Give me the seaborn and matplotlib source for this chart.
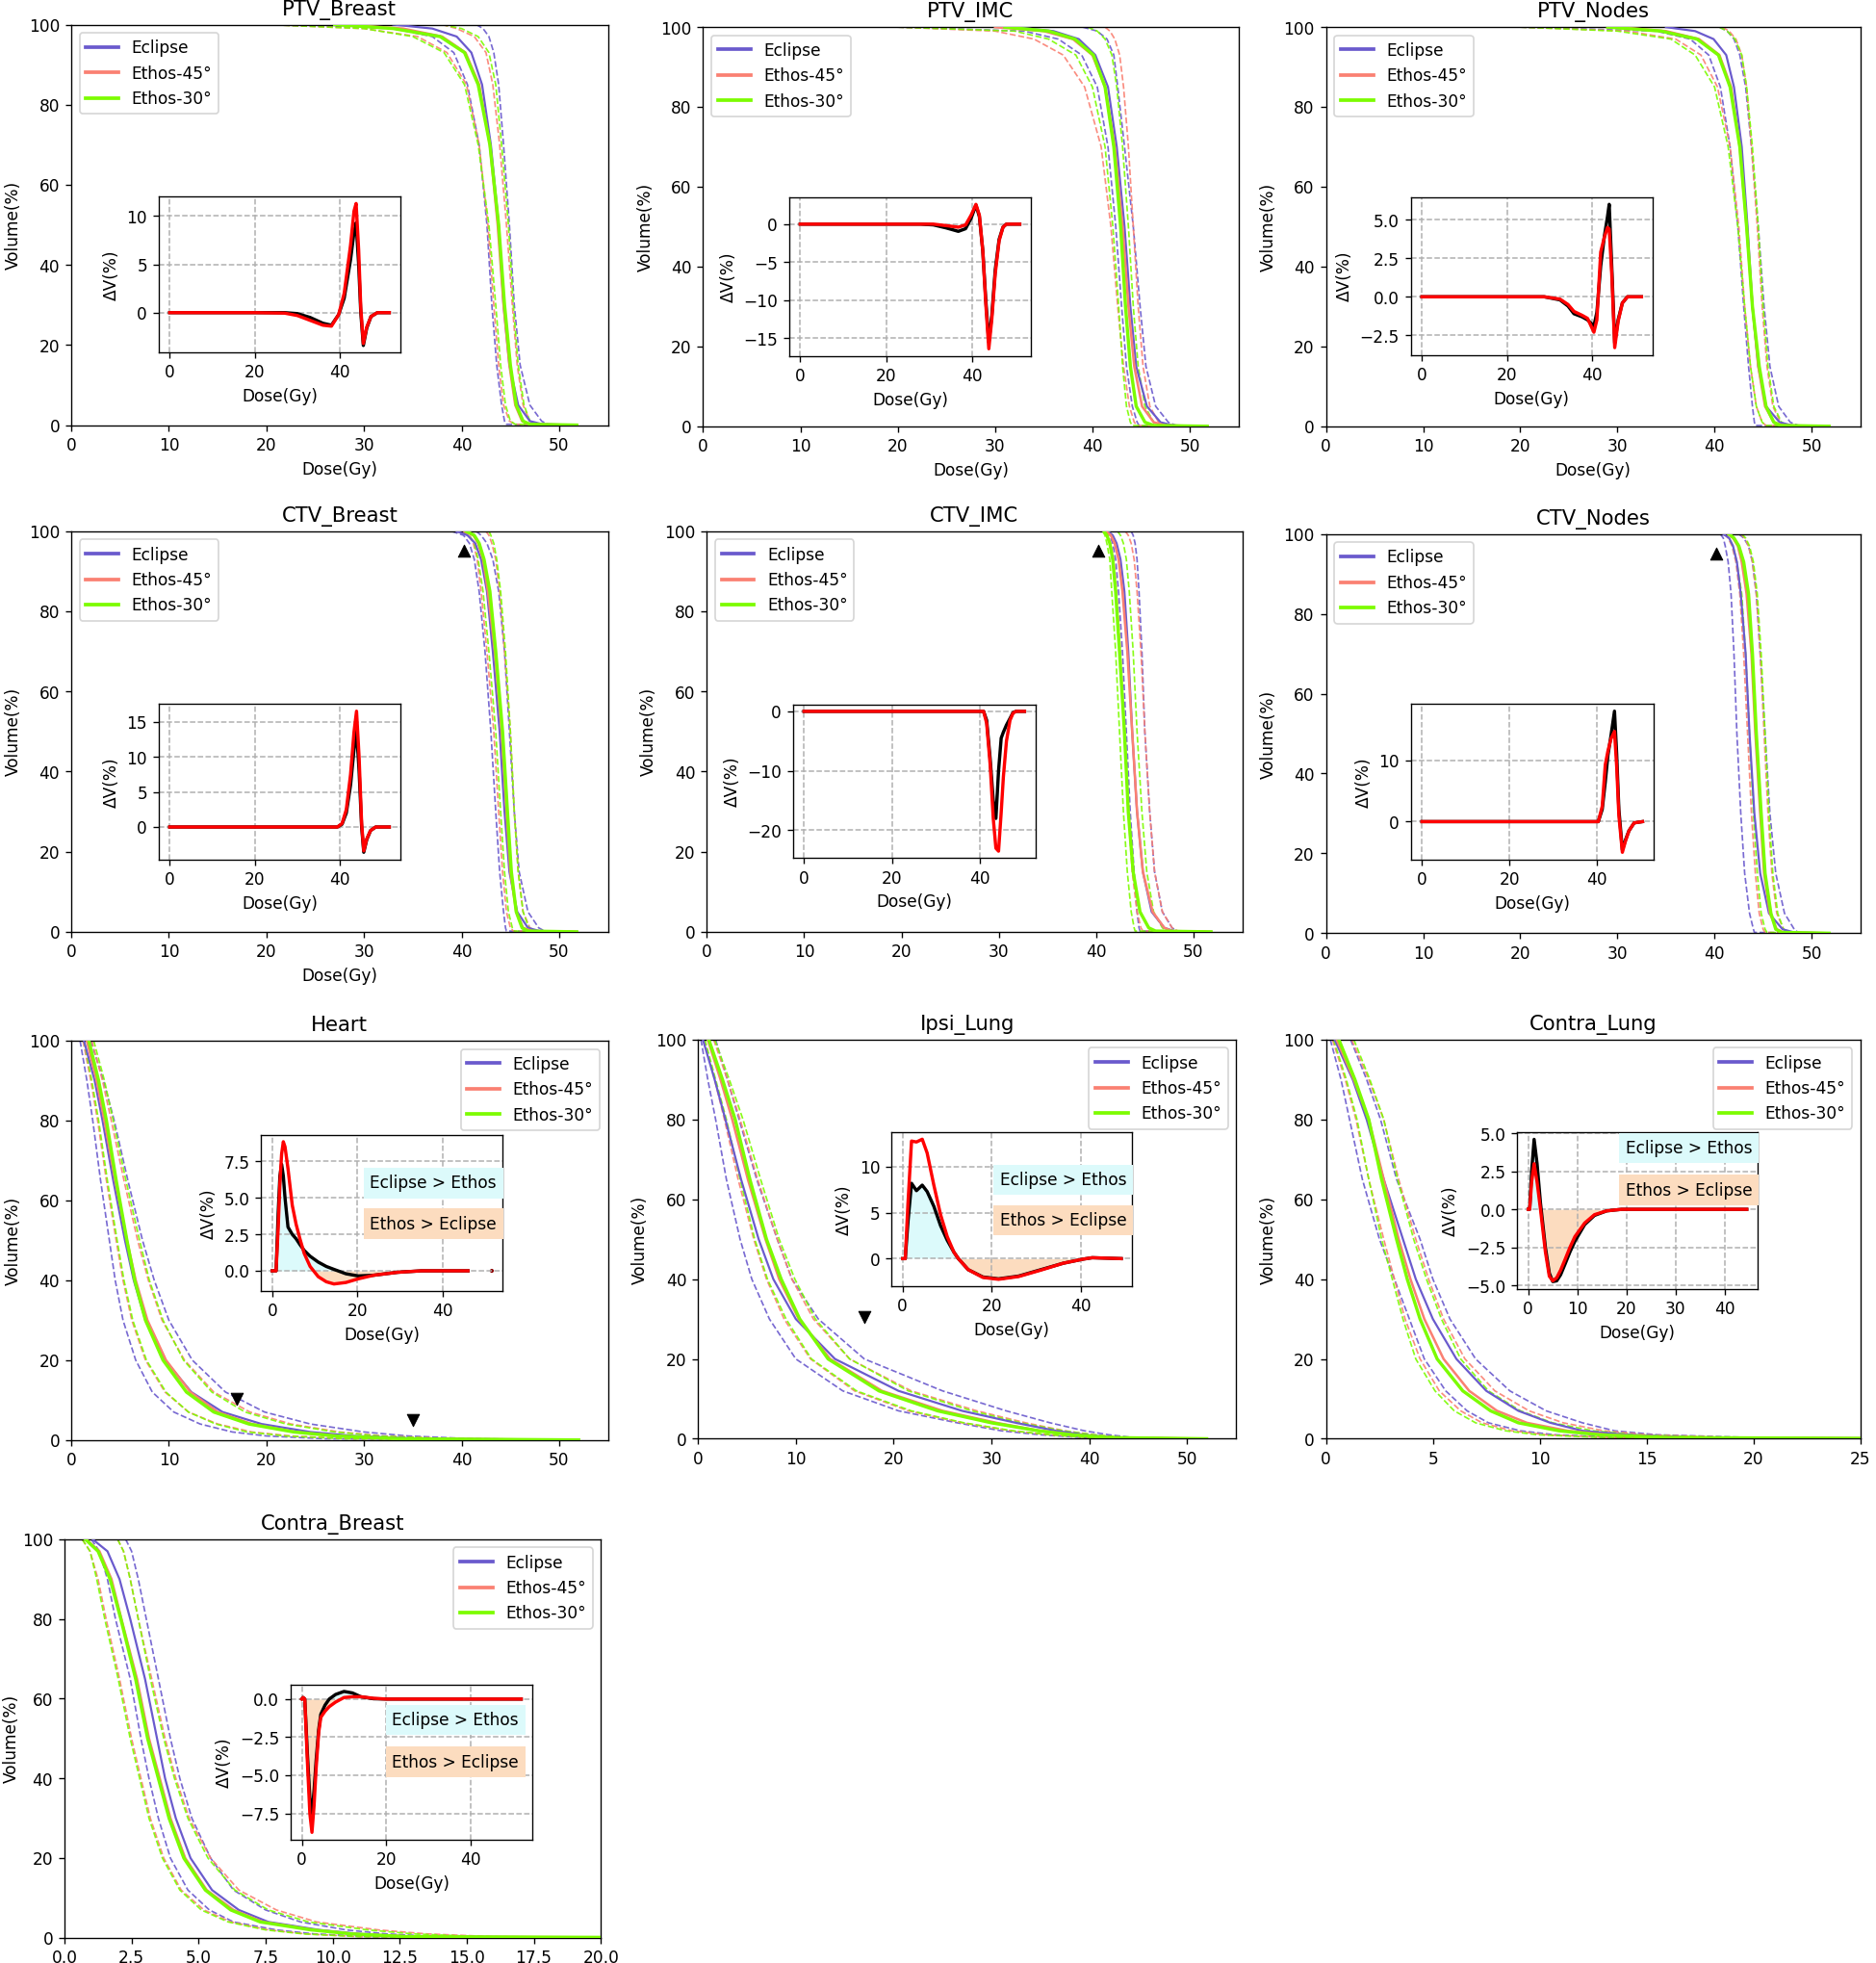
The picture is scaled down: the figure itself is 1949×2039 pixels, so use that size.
import numpy as np
import pandas as pd
import matplotlib
matplotlib.use("Agg")
from matplotlib import pyplot as plt
from matplotlib.lines import Line2D
from matplotlib.ticker import MultipleLocator
import seaborn as sns

# volume levels (%) at which each DVH curve's dose (Gy) is read
TGT_LEVELS = [100, 99, 97, 93, 85, 70, 50, 30, 15, 5, 1, 0.2, 0]
OAR_LEVELS = [100, 90, 80, 65, 50, 40, 30, 20, 12, 7, 4, 2, 1, 0.3, 0]
CBR_LEVELS = [100, 97, 90, 80, 65, 50, 40, 30, 20, 12, 7, 4, 2, 1, 0.3, 0]

SERIES = ["Eclipse", "Ethos-45°", "Ethos-30°"]

# ---------------- PTV_Breast ----------------
PTVB_ECL = [33, 37, 39.5, 41.0, 42.1, 43.0, 43.8, 44.3, 44.9, 45.8, 47.0, 48.3, 51.8]
PTVB_ECL_LO = [20, 33, 37.0, 39.2, 40.6, 41.8, 42.6, 43.1, 43.6, 44.1, 44.4, 44.6, 51.8]
PTVB_ECL_HI = [41.5, 42.2, 42.8, 43.3, 43.8, 44.3, 44.9, 45.4, 46.0, 47.0, 48.2, 48.8, 51.8]
PTVB_E45 = [28, 34, 38.0, 40.4, 41.8, 42.9, 43.7, 44.3, 44.9, 45.5, 46.2, 47.0, 51.8]
PTVB_E45_LO = [20, 30, 35.5, 38.5, 40.5, 41.8, 42.7, 43.3, 43.8, 44.3, 44.9, 45.5, 51.8]
PTVB_E45_HI = [38, 39.5, 41.3, 42.5, 43.2, 43.9, 44.6, 45.2, 45.7, 46.3, 47.0, 47.6, 51.8]
PTVB_E30 = [27, 33, 37.8, 40.3, 41.7, 42.9, 43.8, 44.4, 45.0, 45.6, 46.3, 47.0, 51.8]
PTVB_E30_LO = [20, 30, 35.0, 38.2, 40.3, 41.7, 42.8, 43.5, 44.0, 44.5, 45.0, 45.5, 51.8]
PTVB_E30_HI = [38, 40, 41.7, 42.8, 43.5, 44.1, 44.8, 45.3, 45.8, 46.4, 47.0, 47.6, 51.8]
PTVB_DX = [0, 20, 27, 30, 33, 36, 38, 39.7, 41, 42.5, 43.3, 43.8, 44.4, 44.9, 45.5, 46.3, 47.3, 48.8, 51.6]
PTVB_D45 = [0, 0, 0, -0.1, -0.5, -1.1, -1.3, -0.2, 1.5, 5.5, 8.3, 9.3, 5, 0, -3.4, -1.6, -0.4, 0, 0]
PTVB_D30 = [0, 0, -0.05, -0.3, -0.8, -1.3, -1.4, -0.2, 2, 7, 10.5, 11.3, 6.5, 0.5, -3.2, -1.5, -0.4, 0, 0]

# ---------------- PTV_IMC ----------------
PTVI_ECL = [32, 36.0, 38.6, 40.3, 41.6, 42.5, 43.3, 43.9, 44.5, 45.6, 47.0, 48.3, 51.8]
PTVI_ECL_LO = [20, 33.0, 36.5, 38.9, 40.5, 41.6, 42.4, 43.0, 43.5, 44.1, 44.6, 44.8, 51.8]
PTVI_ECL_HI = [39, 40.5, 41.5, 42.2, 42.6, 43.3, 44.2, 44.9, 45.5, 46.5, 47.8, 48.6, 51.8]
PTVI_E45 = [30, 35.0, 38.0, 40.0, 41.3, 42.3, 43.1, 43.7, 44.3, 45.1, 46.3, 47.5, 51.8]
PTVI_E45_LO = [20, 30, 34.0, 37.0, 39.2, 40.9, 41.9, 42.6, 43.2, 43.8, 44.3, 44.6, 51.8]
PTVI_E45_HI = [41.3, 41.8, 42.3, 42.8, 43.2, 43.7, 44.2, 44.7, 45.2, 45.9, 46.8, 47.6, 51.8]
PTVI_E30 = [31, 35.5, 38.2, 40.1, 41.3, 42.2, 42.9, 43.4, 43.9, 44.5, 45.4, 46.3, 51.8]
PTVI_E30_LO = [20, 32, 35.5, 38.3, 40.0, 41.3, 42.1, 42.7, 43.1, 43.5, 43.9, 44.1, 51.8]
PTVI_E30_HI = [39.5, 40.5, 41.3, 42.0, 42.5, 43.1, 43.7, 44.2, 44.7, 45.4, 46.3, 47.0, 51.8]
PTVI_DX = [0, 20, 28, 31, 34, 36.8, 38.5, 39.8, 40.9, 41.7, 42.5, 43.2, 43.9, 44.6, 45.4, 46.3, 47.2, 48, 51.1]
PTVI_D45 = [0, 0, 0, -0.1, -0.5, -0.95, -0.6, 0.8, 2.5, 1.0, -3.5, -10, -15.5, -12, -6, -2, -0.4, 0, 0]
PTVI_D30 = [0, 0, 0, 0, -0.2, -0.4, -0.1, 1.2, 2.6, 1.2, -3.5, -10.5, -16.4, -12.5, -6.5, -2.2, -0.4, 0, 0]

# ---------------- PTV_Nodes ----------------
PTVN_ECL = [35, 38.0, 39.9, 41.2, 42.0, 42.8, 43.4, 43.9, 44.5, 45.3, 46.7, 48.0, 51.8]
PTVN_ECL_LO = [20, 34, 37.5, 39.4, 40.6, 41.6, 42.4, 43.0, 43.5, 43.9, 44.1, 44.2, 51.8]
PTVN_ECL_HI = [40.5, 41.3, 42.0, 42.6, 43.2, 43.8, 44.5, 45.1, 45.7, 46.6, 47.8, 48.6, 51.8]
PTVN_E45 = [30, 35.0, 38.4, 40.5, 41.7, 42.6, 43.3, 43.9, 44.5, 45.2, 46.1, 47.0, 51.8]
PTVN_E45_LO = [20, 31, 36.0, 38.6, 40.3, 41.6, 42.5, 43.1, 43.7, 44.3, 44.9, 45.3, 51.8]
PTVN_E45_HI = [40.8, 41.5, 42.2, 42.8, 43.3, 43.8, 44.4, 44.9, 45.4, 46.0, 46.8, 47.5, 51.8]
PTVN_E30 = [29, 34.5, 38.2, 40.4, 41.6, 42.6, 43.3, 43.9, 44.6, 45.3, 46.1, 46.8, 51.8]
PTVN_E30_LO = [20, 30, 35.5, 38.0, 40.0, 41.4, 42.4, 43.1, 43.7, 44.3, 44.9, 45.3, 51.8]
PTVN_E30_HI = [40.5, 41.3, 42.1, 42.8, 43.3, 43.9, 44.5, 45.0, 45.5, 46.1, 46.9, 47.5, 51.8]
PTVN_DX = [0, 20, 28.8, 32.5, 34.4, 35.8, 37.7, 39, 40.5, 41.2, 42.1, 43.0, 43.7, 44.1, 44.7, 45.4, 46.2, 47.2, 48.4, 51.7]
PTVN_D45 = [0, 0, 0, -0.2, -0.6, -1.1, -1.3, -1.5, -1.9, -1.0, 2.0, 4.0, 5.2, 6.0, 2, -3.0, -1.5, -0.4, 0, 0]
PTVN_D30 = [0, 0, 0, -0.15, -0.5, -0.95, -1.2, -1.4, -2.3, -1.5, 2.9, 3.9, 4.5, 4.4, 1.5, -3.3, -1.6, -0.4, 0, 0]

# ---------------- CTV_Breast ----------------
CTVB_ECL = [39.5, 40.6, 41.4, 42.0, 42.6, 43.2, 43.9, 44.4, 44.9, 45.7, 46.8, 48.0, 51.8]
CTVB_ECL_LO = [39.0, 40.2, 40.8, 41.3, 41.8, 42.4, 43.0, 43.5, 43.9, 44.3, 44.5, 44.6, 51.8]
CTVB_ECL_HI = [41.5, 42.0, 42.6, 43.2, 43.8, 44.4, 44.9, 45.4, 45.9, 46.8, 47.9, 48.5, 51.8]
CTVB_E45 = [40.3, 41.2, 41.7, 42.2, 42.7, 43.4, 44.1, 44.6, 45.0, 45.6, 46.3, 47.2, 51.8]
CTVB_E45_LO = [40.0, 40.8, 41.2, 41.6, 42.0, 42.6, 43.3, 43.8, 44.2, 44.6, 45.0, 45.3, 51.8]
CTVB_E45_HI = [42.5, 42.8, 43.1, 43.5, 43.9, 44.4, 45.0, 45.4, 45.8, 46.3, 47.0, 47.7, 51.8]
CTVB_E30 = [40.5, 41.3, 41.8, 42.3, 42.9, 43.5, 44.2, 44.7, 45.1, 45.6, 46.2, 46.8, 51.8]
CTVB_E30_LO = [40.2, 40.8, 41.3, 41.7, 42.2, 42.8, 43.5, 44.0, 44.4, 44.8, 45.2, 45.4, 51.8]
CTVB_E30_HI = [42.8, 43.0, 43.3, 43.6, 44.0, 44.5, 45.0, 45.4, 45.8, 46.3, 46.9, 47.4, 51.8]
CTVB_DX = [0, 20, 39.4, 40.5, 41.5, 42.5, 43.3, 43.9, 44.5, 45.1, 45.6, 46.3, 47.2, 48.4, 51.6]
CTVB_D45 = [0, 0, 0, 0.4, 2, 6, 11, 13.8, 8, 0, -3.6, -1.8, -0.5, 0, 0]
CTVB_D30 = [0, 0, 0, 0.5, 2.5, 7.5, 13.5, 16.5, 10, 0.5, -3.4, -1.7, -0.5, 0, 0]

# ---------------- CTV_IMC ----------------
CTVI_ECL = [41.2, 41.7, 42.1, 42.5, 42.9, 43.3, 43.7, 44.2, 44.8, 45.7, 47.0, 48.0, 51.8]
CTVI_ECL_LO = [41.0, 41.4, 41.7, 42.0, 42.3, 42.7, 43.1, 43.5, 43.9, 44.2, 44.4, 44.5, 51.8]
CTVI_ECL_HI = [43.6, 43.8, 44.0, 44.2, 44.4, 44.7, 45.0, 45.5, 46.0, 46.8, 47.8, 48.3, 51.8]
CTVI_E45 = [41.0, 41.5, 41.9, 42.3, 42.7, 43.2, 43.7, 44.2, 44.8, 45.8, 47.0, 47.8, 51.8]
CTVI_E45_LO = [40.9, 41.2, 41.5, 41.8, 42.1, 42.5, 42.9, 43.3, 43.7, 44.2, 44.6, 44.8, 51.8]
CTVI_E45_HI = [43.0, 43.3, 43.6, 43.9, 44.2, 44.6, 45.0, 45.5, 46.0, 46.8, 47.8, 48.4, 51.8]
CTVI_E30 = [40.8, 41.1, 41.4, 41.7, 42.0, 42.4, 42.9, 43.3, 43.8, 44.5, 45.4, 46.1, 51.8]
CTVI_E30_LO = [40.7, 40.9, 41.1, 41.4, 41.6, 42.0, 42.4, 42.8, 43.2, 43.6, 43.9, 44.0, 51.8]
CTVI_E30_HI = [42.2, 42.5, 42.8, 43.1, 43.4, 43.8, 44.2, 44.7, 45.2, 45.9, 46.8, 47.3, 51.8]
CTVI_DX = [0, 20, 40.8, 41.5, 42.3, 43.0, 43.6, 44.2, 44.8, 45.3, 46.0, 46.8, 47.5, 48.2, 50.1]
CTVI_D45 = [0, 0, 0, -1.5, -8, -15, -18, -10, -4.5, -3.5, -2.3, -1.2, -0.2, 0, 0]
CTVI_D30 = [0, 0, 0, -2.0, -9, -18, -23, -23.5, -17, -11, -5, -1.5, -0.3, 0, 0]

# ---------------- CTV_Nodes ----------------
CTVN_ECL = [40.9, 41.5, 41.9, 42.3, 42.7, 43.2, 43.6, 44.1, 44.7, 45.6, 47.0, 48.2, 51.8]
CTVN_ECL_LO = [40.6, 40.9, 41.1, 41.4, 41.7, 42.0, 42.3, 42.7, 43.1, 43.6, 44.0, 44.1, 51.8]
CTVN_ECL_HI = [42.5, 43.0, 43.5, 43.9, 44.3, 44.7, 45.2, 45.7, 46.3, 47.2, 48.2, 48.6, 51.8]
CTVN_E45 = [41.4, 41.9, 42.4, 42.8, 43.3, 43.8, 44.2, 44.7, 45.1, 45.7, 46.4, 47.1, 51.8]
CTVN_E45_LO = [41.0, 41.4, 41.8, 42.2, 42.6, 43.0, 43.4, 43.8, 44.2, 44.6, 45.0, 45.2, 51.8]
CTVN_E45_HI = [42.7, 43.1, 43.5, 43.9, 44.3, 44.7, 45.1, 45.5, 45.9, 46.4, 47.1, 47.6, 51.8]
CTVN_E30 = [41.5, 42.0, 42.5, 43.0, 43.5, 43.9, 44.3, 44.8, 45.2, 45.8, 46.3, 46.9, 51.8]
CTVN_E30_LO = [41.1, 41.5, 41.9, 42.3, 42.8, 43.2, 43.6, 44.0, 44.4, 44.8, 45.2, 45.4, 51.8]
CTVN_E30_HI = [42.8, 43.2, 43.6, 44.0, 44.4, 44.8, 45.2, 45.6, 46.0, 46.5, 47.1, 47.6, 51.8]
CTVN_DX = [0, 20, 40.3, 41.2, 41.9, 42.5, 43.2, 44.0, 44.5, 45.0, 45.8, 46.5, 47.3, 48.5, 50.4]
CTVN_D45 = [0, 0, 0, 2, 6.5, 10.8, 14, 18, 11, 2, -4.6, -3, -1.5, -0.2, 0]
CTVN_D30 = [0, 0, 0, 2.5, 9.3, 11.5, 13.5, 14.7, 9, 1, -5, -3.2, -1.5, -0.2, 0]

# ---------------- Heart ----------------
HRT_ECL = [1.3, 2.4, 3.2, 4.3, 5.5, 6.4, 7.6, 9.6, 12.3, 15.5, 19.5, 24.5, 29, 36, 52]
HRT_ECL_LO = [0.9, 1.6, 2.2, 3.0, 3.9, 4.5, 5.3, 6.6, 8.3, 10.5, 13.2, 16.5, 20, 26, 52]
HRT_ECL_HI = [2.0, 3.3, 4.4, 5.8, 7.3, 8.5, 10.0, 12.4, 15.8, 19.8, 24.5, 30, 34.5, 41, 52]
HRT_E45 = [1.6, 2.6, 3.4, 4.5, 5.7, 6.6, 7.8, 9.7, 12.2, 15.0, 18.5, 23.0, 27.5, 34, 52]
HRT_E45_LO = [1.2, 2.0, 2.7, 3.6, 4.6, 5.3, 6.2, 7.6, 9.6, 12.0, 15.0, 18.5, 22.5, 29, 52]
HRT_E45_HI = [2.1, 3.2, 4.1, 5.4, 6.8, 7.9, 9.3, 11.6, 14.6, 18.3, 22.5, 27.5, 32, 39, 52]
HRT_E30 = [1.8, 2.8, 3.6, 4.6, 5.7, 6.5, 7.6, 9.4, 11.8, 14.6, 18.2, 22.8, 27, 34, 52]
HRT_E30_LO = [1.3, 2.1, 2.8, 3.7, 4.7, 5.4, 6.3, 7.7, 9.7, 12.0, 14.8, 18.0, 22, 28, 52]
HRT_E30_HI = [2.3, 3.4, 4.3, 5.6, 7.0, 8.0, 9.4, 11.5, 14.4, 17.8, 22, 27, 31.5, 38, 52]
HRT_DX = [0, 0.9, 1.4, 1.8, 2.2, 2.6, 3.0, 3.7, 4.7, 5.6, 6.5, 7.5, 8.9, 10.8, 12.7, 14.5, 17.3, 20.2, 23.9, 29.5, 35, 46]
HRT_D45 = [0, 0, 4, 6.5, 7.3, 6.5, 5.0, 3.0, 2.5, 2.2, 1.8, 1.4, 1.0, 0.6, 0.3, 0.1, -0.2, -0.35, -0.3, -0.1, 0, 0]
HRT_D30 = [0, 0, 3, 6, 8, 8.85, 8.5, 7.0, 4.5, 3.2, 2.2, 1.2, 0.3, -0.4, -0.75, -0.9, -0.8, -0.55, -0.3, -0.1, 0, 0]
HRT_DOT = [51.6, 0.0]
HRT_MARKS_X = [17, 35]
HRT_MARKS_Y = [10.2, 5.1]

# ---------------- Ipsi_Lung ----------------
IPS_ECL = [0.5, 1.7, 2.8, 4.4, 6.2, 7.7, 10.0, 14.0, 20.5, 27.0, 32.5, 36.6, 39.5, 42.5, 52]
IPS_ECL_LO = [0.3, 1.0, 1.8, 2.9, 4.3, 5.5, 7.3, 10.0, 14.8, 20.5, 26.5, 31.0, 35.0, 39.5, 52]
IPS_ECL_HI = [1.8, 3.0, 4.2, 6.0, 8.1, 9.6, 12.3, 17.0, 25.0, 31.5, 36.0, 39.5, 42.0, 44.5, 52]
IPS_E45 = [1.0, 2.3, 3.5, 5.1, 6.9, 8.3, 10.3, 13.5, 18.8, 25.0, 30.5, 35.0, 38.5, 42, 52]
IPS_E45_LO = [0.6, 1.7, 2.7, 4.1, 5.7, 7.0, 8.8, 11.5, 16.0, 21.5, 27.0, 32.0, 36.0, 40, 52]
IPS_E45_HI = [1.6, 3.0, 4.3, 6.1, 8.1, 9.6, 11.8, 15.5, 21.8, 28.5, 33.5, 37.5, 40.5, 43.5, 52]
IPS_E30 = [1.1, 2.5, 3.8, 5.3, 7.0, 8.5, 10.4, 13.3, 18.5, 24.5, 30.0, 34.8, 38.3, 42, 52]
IPS_E30_LO = [0.7, 1.8, 2.9, 4.3, 5.8, 7.1, 9.0, 11.6, 16.2, 21.8, 27.2, 32.2, 36.0, 40, 52]
IPS_E30_HI = [1.7, 3.2, 4.6, 6.4, 8.3, 9.9, 12.0, 15.5, 21.5, 28.0, 33.0, 37.3, 40.5, 43.5, 52]
IPS_DX = [0, 0.6, 1.2, 2.0, 3.1, 4.4, 5.5, 7.0, 8.5, 10.0, 11.5, 12.5, 14.7, 18, 21.5, 26, 31, 36, 40.5, 42.5, 49]
IPS_D45 = [0, 0, 4, 8.2, 7.4, 8.0, 7.3, 5.7, 3.6, 2.0, 0.7, 0, -1.2, -2.0, -2.2, -1.9, -1.2, -0.5, -0.05, 0.1, 0]
IPS_D30 = [0, 0, 6, 12.8, 12.7, 13.0, 11.5, 8.0, 4.8, 2.4, 0.7, 0, -1.2, -2.05, -2.25, -1.95, -1.25, -0.5, -0.05, 0.1, 0]
IPS_MARKS_X = [17]
IPS_MARKS_Y = [30.4]

# ---------------- Contra_Lung ----------------
CLU_ECL = [0.4, 1.25, 1.9, 2.7, 3.6, 4.2, 5.0, 6.1, 7.5, 9.0, 10.5, 12.0, 14.1, 17.0, 30]
CLU_ECL_LO = [0.2, 0.7, 1.1, 1.7, 2.5, 3.2, 3.9, 4.6, 5.6, 6.6, 7.6, 9.1, 10.7, 14.1, 30]
CLU_ECL_HI = [1.15, 1.9, 2.55, 3.3, 4.4, 5.0, 5.8, 7.0, 8.6, 10.3, 12.0, 13.5, 15.5, 20, 30]
CLU_E45 = [0.5, 1.3, 2.0, 2.7, 3.4, 3.95, 4.6, 5.5, 6.7, 8.0, 9.4, 11.3, 13.2, 16.5, 30]
CLU_E45_LO = [0.3, 0.9, 1.4, 2.0, 2.7, 3.2, 3.7, 4.4, 5.3, 6.3, 7.3, 8.7, 10.3, 13.5, 30]
CLU_E45_HI = [1.2, 2.0, 2.7, 3.4, 4.2, 4.8, 5.5, 6.5, 7.9, 9.5, 11.1, 13.0, 15, 19, 30]
CLU_E30 = [0.6, 1.35, 2.0, 2.6, 3.3, 3.8, 4.4, 5.2, 6.4, 7.7, 9.0, 10.9, 12.8, 16, 30]
CLU_E30_LO = [0.35, 0.95, 1.45, 2.0, 2.6, 3.1, 3.6, 4.2, 5.1, 6.0, 7.0, 8.4, 9.9, 13, 30]
CLU_E30_HI = [1.3, 2.05, 2.7, 3.35, 4.1, 4.7, 5.4, 6.3, 7.6, 9.1, 10.6, 12.5, 14.5, 18.5, 30]
CLU_DX = [0, 0.3, 0.7, 1.2, 1.8, 2.5, 3.5, 4.3, 5.0, 5.8, 6.6, 7.5, 8.5, 9.5, 11.5, 13.5, 16, 19, 25, 44.5]
CLU_D45 = [0, 0, 2.5, 4.6, 3.0, 0.4, -2.5, -4.2, -4.75, -4.7, -4.3, -3.6, -2.8, -2.1, -1.0, -0.4, -0.1, 0, 0, 0]
CLU_D30 = [0, 0, 1.8, 3.0, 1.8, 0, -2.8, -4.4, -4.7, -4.5, -4.0, -3.3, -2.5, -1.8, -0.9, -0.35, -0.1, 0, 0, 0]

# ---------------- Contra_Breast ----------------
CBR_ECL = [1.05, 1.6, 2.05, 2.45, 3.0, 3.45, 3.75, 4.15, 4.7, 5.5, 6.5, 7.6, 9.5, 11.0, 13.0, 25]
CBR_ECL_LO = [1.0, 1.3, 1.6, 1.9, 2.45, 2.85, 3.15, 3.5, 3.95, 4.6, 5.4, 6.3, 7.9, 9.3, 11.5, 25]
CBR_ECL_HI = [2.28, 2.5, 2.75, 3.05, 3.5, 3.95, 4.3, 4.75, 5.45, 6.3, 7.5, 8.8, 10.5, 12.0, 14, 25]
CBR_E45 = [0.8, 1.3, 1.75, 2.12, 2.7, 3.15, 3.55, 3.95, 4.5, 5.3, 6.3, 7.4, 9.3, 10.8, 13, 25]
CBR_E45_LO = [0.66, 0.95, 1.25, 1.55, 2.05, 2.5, 2.85, 3.2, 3.7, 4.35, 5.2, 6.2, 7.6, 9.0, 11, 25]
CBR_E45_HI = [1.98, 2.2, 2.45, 2.75, 3.25, 3.75, 4.15, 4.65, 5.45, 6.5, 7.9, 9.4, 11.7, 13.5, 16, 25]
CBR_E30 = [0.78, 1.25, 1.7, 2.1, 2.65, 3.1, 3.5, 3.9, 4.45, 5.25, 6.2, 7.3, 9.2, 10.7, 12.8, 25]
CBR_E30_LO = [0.66, 0.95, 1.2, 1.5, 2.0, 2.45, 2.8, 3.15, 3.65, 4.3, 5.1, 6.1, 7.5, 8.9, 11, 25]
CBR_E30_HI = [1.98, 2.2, 2.45, 2.75, 3.2, 3.7, 4.1, 4.6, 5.35, 6.35, 7.6, 9.1, 11.3, 13.0, 15.5, 25]
CBR_DX = [0, 0.3, 0.7, 1.3, 1.9, 2.4, 2.9, 3.4, 4.0, 4.5, 5.5, 6.5, 8, 10, 12, 14, 17, 20, 52]
CBR_D45 = [0, 0.1, 0, -3.5, -6.5, -7.5, -6.0, -4.0, -2.0, -1.0, -0.4, 0, 0.3, 0.5, 0.4, 0.15, 0.02, 0, 0]
CBR_D30 = [0, 0.1, 0, -4.0, -7.5, -8.75, -7.0, -4.5, -2.2, -1.2, -0.8, -0.5, -0.2, 0.1, 0.15, 0.15, 0.05, 0, 0]

CTV_MARK_X = [40.2]
CTV_MARK_Y = [95.2]

COLORS = ["slateblue", "salmon", "lawngreen"]
SOLID_LW = [1.3, 1.5, 2.0]
CYAN = "#dcfafb"
PEACH = "#fcdcbf"

W_PX, H_PX, DPI = 1949, 2039, 122


def dvh_line(ax, doses, levels, color, lw, ls="-", alpha=1.0, z=2):
    df = pd.DataFrame({"dose": doses, "vol": levels})
    sns.lineplot(data=df, x="dose", y="vol", ax=ax, color=color, lw=lw,
                 linestyle=ls, sort=False, estimator=None, alpha=alpha, zorder=z)


def draw_panel(fig, p):
    ax = fig.add_axes(p["pos"])
    levels = p["levels"]
    # dashed spread first, mean curves on top
    for (mean, lo, hi), c in zip(p["curves"], COLORS):
        dvh_line(ax, lo, levels, c, 1.0, "--", 0.9, 2)
        dvh_line(ax, hi, levels, c, 1.0, "--", 0.9, 2)
    for (mean, lo, hi), c, lw in zip(p["curves"], COLORS, SOLID_LW):
        dvh_line(ax, mean, levels, c, lw, "-", 1.0, 3)
    if p.get("marks"):
        mx, my, mk = p["marks"]
        sns.scatterplot(x=mx, y=my, ax=ax, marker=mk, color="black", s=55,
                        edgecolor="black", zorder=5)
    ax.set_xlim(0, p["xmax"])
    ax.set_ylim(0, 100)
    ax.set_title(p["title"], fontsize=12.5)
    ax.set_ylabel("Volume(%)", labelpad=p.get("ylpad", 4))
    ax.set_xlabel("Dose(Gy)" if p["xlabel"] else "")
    handles = [Line2D([], [], color=c, lw=2.2) for c in COLORS]
    ax.legend(handles, SERIES, loc=p["legend"], fontsize=10)

    ins = ax.inset_axes(p["inset"])
    x = np.array(p["dx"], dtype=float)
    b = np.array(p["d45"], dtype=float)
    r = np.array(p["d30"], dtype=float)
    if p.get("boxes"):
        ins.fill_between(x, b, 0, where=b > 0, interpolate=True, color=CYAN, lw=0)
        ins.fill_between(x, r, 0, where=r < 0, interpolate=True, color=PEACH, lw=0)
    sns.lineplot(x=x, y=b, ax=ins, color="black", lw=2, sort=False, estimator=None)
    sns.lineplot(x=x, y=r, ax=ins, color="red", lw=2, sort=False, estimator=None)
    if p.get("dot"):
        sns.scatterplot(x=[p["dot"][0]], y=[p["dot"][1]], ax=ins, color="darkred",
                        s=6, edgecolor="none")
    ins.xaxis.set_major_locator(MultipleLocator(p.get("xstep", 20)))
    ins.yaxis.set_major_locator(MultipleLocator(p["ystep"]))
    ins.grid(True, ls="--", color="#b0b0b0", lw=0.9)
    ins.set_xlabel("Dose(Gy)")
    ins.set_ylabel("ΔV(%)")
    if p.get("boxes"):
        bx, ye, yo = p["boxes"]
        ins.text(bx, ye, "Eclipse > Ethos", transform=ins.transAxes, va="center",
                 ha="left", fontsize=10,
                 bbox=dict(boxstyle="square,pad=0.4", fc=CYAN, ec="none"))
        ins.text(bx, yo, "Ethos > Eclipse", transform=ins.transAxes, va="center",
                 ha="left", fontsize=10,
                 bbox=dict(boxstyle="square,pad=0.4", fc=PEACH, ec="none"))
    return ax


panels = [
    dict(title="PTV_Breast", pos=[0.038, 0.7833, 0.286, 0.204], inset=[0.163, 0.181, 0.45, 0.39],
         levels=TGT_LEVELS, xmax=55, xlabel=True, legend="upper left", ystep=5,
         curves=[(PTVB_ECL, PTVB_ECL_LO, PTVB_ECL_HI), (PTVB_E45, PTVB_E45_LO, PTVB_E45_HI),
                 (PTVB_E30, PTVB_E30_LO, PTVB_E30_HI)],
         dx=PTVB_DX, d45=PTVB_D45, d30=PTVB_D30),
    dict(title="PTV_IMC", pos=[0.3747, 0.7827, 0.2853, 0.2033], inset=[0.161, 0.176, 0.451, 0.398],
         levels=TGT_LEVELS, xmax=55, xlabel=True, legend="upper left", ystep=5,
         curves=[(PTVI_ECL, PTVI_ECL_LO, PTVI_ECL_HI), (PTVI_E45, PTVI_E45_LO, PTVI_E45_HI),
                 (PTVI_E30, PTVI_E30_LO, PTVI_E30_HI)],
         dx=PTVI_DX, d45=PTVI_D45, d30=PTVI_D30),
    dict(title="PTV_Nodes", pos=[0.7067, 0.7827, 0.2847, 0.2033], inset=[0.159, 0.179, 0.452, 0.395],
         levels=TGT_LEVELS, xmax=55, xlabel=True, legend="upper left", ystep=2.5,
         curves=[(PTVN_ECL, PTVN_ECL_LO, PTVN_ECL_HI), (PTVN_E45, PTVN_E45_LO, PTVN_E45_HI),
                 (PTVN_E30, PTVN_E30_LO, PTVN_E30_HI)],
         dx=PTVN_DX, d45=PTVN_D45, d30=PTVN_D30),
    dict(title="CTV_Breast", pos=[0.038, 0.5252, 0.286, 0.204], inset=[0.163, 0.181, 0.45, 0.3875],
         levels=TGT_LEVELS, xmax=55, xlabel=True, legend="upper left", ystep=5,
         curves=[(CTVB_ECL, CTVB_ECL_LO, CTVB_ECL_HI), (CTVB_E45, CTVB_E45_LO, CTVB_E45_HI),
                 (CTVB_E30, CTVB_E30_LO, CTVB_E30_HI)],
         dx=CTVB_DX, d45=CTVB_D45, d30=CTVB_D30, marks=(CTV_MARK_X, CTV_MARK_Y, "^")),
    dict(title="CTV_IMC", pos=[0.3767, 0.5252, 0.2853, 0.204], inset=[0.161, 0.184, 0.453, 0.384],
         levels=TGT_LEVELS, xmax=55, xlabel=False, legend="upper left", ystep=10,
         curves=[(CTVI_ECL, CTVI_ECL_LO, CTVI_ECL_HI), (CTVI_E45, CTVI_E45_LO, CTVI_E45_HI),
                 (CTVI_E30, CTVI_E30_LO, CTVI_E30_HI)],
         dx=CTVI_DX, d45=CTVI_D45, d30=CTVI_D30, marks=(CTV_MARK_X, CTV_MARK_Y, "^")),
    dict(title="CTV_Nodes", pos=[0.7067, 0.5245, 0.2847, 0.2033], inset=[0.159, 0.185, 0.454, 0.389],
         levels=TGT_LEVELS, xmax=55, xlabel=False, legend="upper left", ystep=10,
         curves=[(CTVN_ECL, CTVN_ECL_LO, CTVN_ECL_HI), (CTVN_E45, CTVN_E45_LO, CTVN_E45_HI),
                 (CTVN_E30, CTVN_E30_LO, CTVN_E30_HI)],
         dx=CTVN_DX, d45=CTVN_D45, d30=CTVN_D30, marks=(CTV_MARK_X, CTV_MARK_Y, "^")),
    dict(title="Heart", pos=[0.038, 0.2664, 0.286, 0.2033], inset=[0.354, 0.373, 0.45, 0.392],
         levels=OAR_LEVELS, xmax=55, xlabel=False, legend="upper right", ystep=2.5,
         curves=[(HRT_ECL, HRT_ECL_LO, HRT_ECL_HI), (HRT_E45, HRT_E45_LO, HRT_E45_HI),
                 (HRT_E30, HRT_E30_LO, HRT_E30_HI)],
         dx=HRT_DX, d45=HRT_D45, d30=HRT_D30, dot=HRT_DOT,
         marks=(HRT_MARKS_X, HRT_MARKS_Y, "v"), boxes=(0.45, 0.69, 0.43)),
    dict(title="Ipsi_Lung", pos=[0.372, 0.267, 0.2867, 0.2033], inset=[0.36, 0.382, 0.447, 0.386],
         levels=OAR_LEVELS, xmax=55, xlabel=False, legend="upper right", ystep=5,
         curves=[(IPS_ECL, IPS_ECL_LO, IPS_ECL_HI), (IPS_E45, IPS_E45_LO, IPS_E45_HI),
                 (IPS_E30, IPS_E30_LO, IPS_E30_HI)],
         dx=IPS_DX, d45=IPS_D45, d30=IPS_D30,
         marks=(IPS_MARKS_X, IPS_MARKS_Y, "v"), boxes=(0.45, 0.69, 0.43)),
    dict(title="Contra_Lung", pos=[0.7067, 0.267, 0.2847, 0.2033], inset=[0.358, 0.376, 0.45, 0.392],
         levels=OAR_LEVELS, xmax=25, xlabel=False, legend="upper right", ystep=2.5, xstep=10,
         curves=[(CLU_ECL, CLU_ECL_LO, CLU_ECL_HI), (CLU_E45, CLU_E45_LO, CLU_E45_HI),
                 (CLU_E30, CLU_E30_LO, CLU_E30_HI)],
         dx=CLU_DX, d45=CLU_D45, d30=CLU_D30, boxes=(0.45, 0.90, 0.63)),
    dict(title="Contra_Breast", pos=[0.0344, 0.0128, 0.2858, 0.203], inset=[0.422, 0.247, 0.45, 0.389],
         levels=CBR_LEVELS, xmax=20, xlabel=False, legend="upper right", ystep=2.5, ylpad=1,
         curves=[(CBR_ECL, CBR_ECL_LO, CBR_ECL_HI), (CBR_E45, CBR_E45_LO, CBR_E45_HI),
                 (CBR_E30, CBR_E30_LO, CBR_E30_HI)],
         dx=CBR_DX, d45=CBR_D45, d30=CBR_D30, boxes=(0.42, 0.77, 0.50)),
]

fig = plt.figure(figsize=((W_PX + 0.4) / DPI, (H_PX + 0.4) / DPI), dpi=DPI)
for p in panels:
    draw_panel(fig, p)

fig.savefig("out.png", dpi=DPI, facecolor="white")
